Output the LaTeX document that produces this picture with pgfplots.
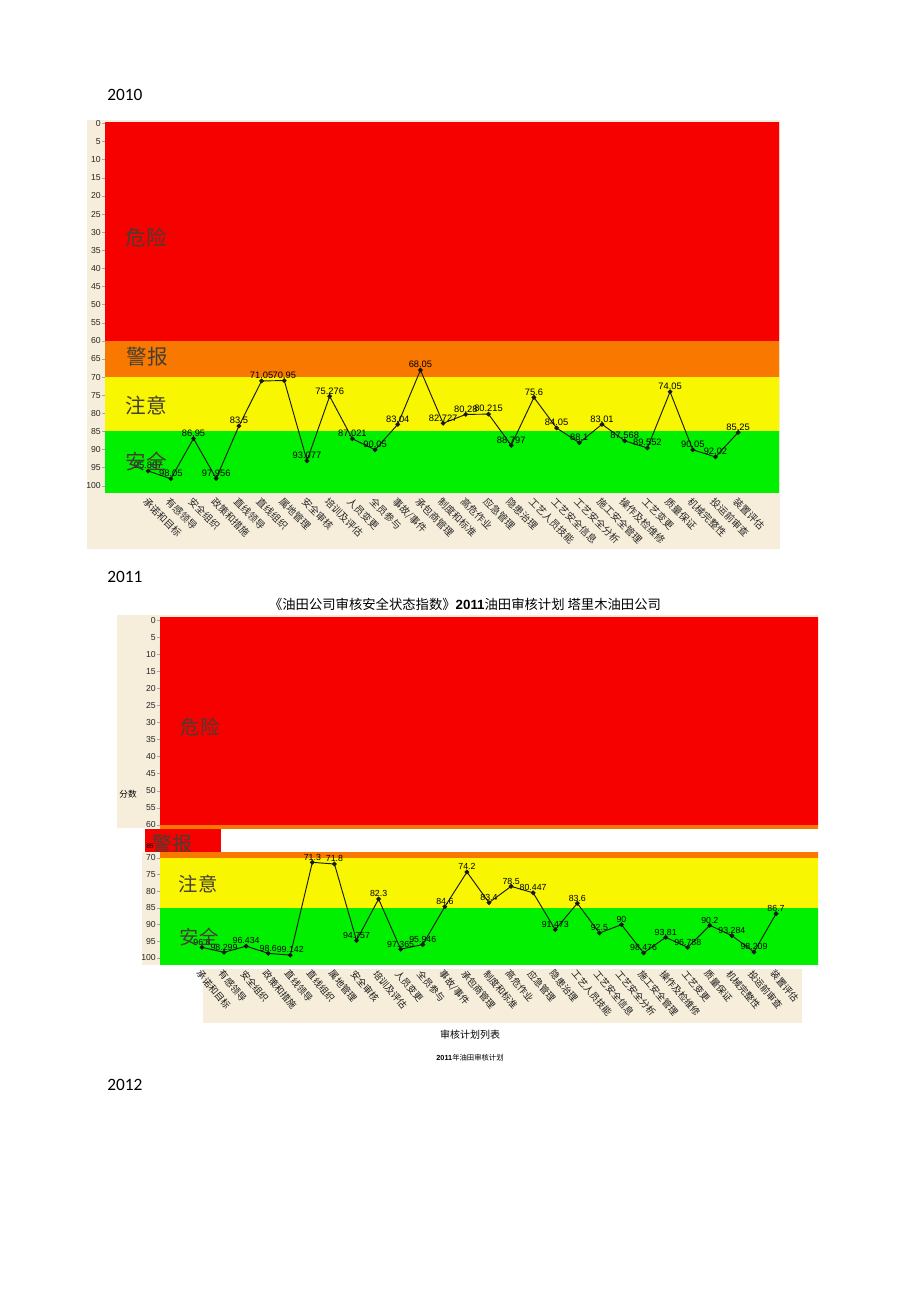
\documentclass[border=0pt]{standalone}
\usepackage{pgfplots}
\pgfplotsset{compat=1.18}
\usepackage{fontspec}
\setmainfont{Liberation Sans}
\newfontfamily\cjk{Noto Sans CJK SC}
\newfontfamily\yearfont{Carlito}
\definecolor{bred}{RGB}{246,0,0}
\definecolor{borange}{RGB}{248,120,0}
\definecolor{byellow}{RGB}{248,246,0}
\definecolor{bgreen}{RGB}{0,240,0}
\definecolor{beige}{RGB}{246,238,218}
\definecolor{bandtxt}{RGB}{70,62,50}
\pgfplotsset{
  catlabels/.style={xtick={0,...,26},xticklabels={承诺和目标,有感领导,安全组织,政策和措施,直线领导,直线组织,属地管理,安全审核,培训及评估,人员变更,全员参与,事故/事件,承包商管理,制度和标准,高危作业,应急管理,隐患治理,工艺人员技能,工艺安全信息,工艺安全分析,施工安全管理,操作及检维修,工艺变更,质量保证,机械完整性,投运前审查,装置评估}},
  riskaxis/.style={
    scale only axis, y dir=reverse,
    axis y line*=left, axis x line*=bottom,
    x axis line style={draw=none},
    y axis line style={draw=gray!70, line width=0.4pt},
    tick align=outside, major tick length=2pt,
    ytick style={draw=gray!70, line width=0.4pt},
    xtick style={draw=none},
    yticklabel style={font=\fontsize{6.5}{6.5}\selectfont, text=black!85, inner sep=1pt},
    /pgf/number format/assume math mode=true,
  },
  datastyle/.style={black!90, line width=0.7pt, mark=*, mark size=1.4pt,
    nodes near coords, point meta=explicit symbolic,
    every node near coord/.style={font=\fontsize{7}{7}\selectfont, inner sep=1.2pt, anchor=south, text=black}},
}
\begin{document}
\begin{tikzpicture}
\useasboundingbox (0,0) rectangle (690pt,-975.75pt);
\fill[white] (0,0) rectangle (690pt,-975.75pt);
% ---------------- 2010 ----------------
\node[anchor=west, inner sep=0] at (80.25pt,-71.25pt) {\yearfont\fontsize{13}{13}\selectfont 2010};
\fill[beige] (65.25pt,-90pt) rectangle (585pt,-411.75pt);
\begin{axis}[riskaxis, catlabels,
  at={(78.75pt,-91.5pt)}, anchor=north west,
  width=505.5pt, height=277.5pt,
  xmin=-1.9, xmax=27.8, ymin=-0.4, ymax=101.7,
  ytick={0,5,...,100},
  x tick label style={font=\cjk\fontsize{7.4}{7.4}\selectfont, rotate=-45, anchor=north west, inner sep=1pt, text=black!85},
]
\fill[bred] (axis cs:-5,-5) rectangle (axis cs:40,60);
\fill[borange] (axis cs:-5,60) rectangle (axis cs:40,70);
\fill[byellow] (axis cs:-5,70) rectangle (axis cs:40,85);
\fill[bgreen] (axis cs:-5,85) rectangle (axis cs:40,105);
\addplot[datastyle] table[meta=l] {
x y l
0 95.887 95.887
1 98.05 98.05
2 86.95 86.95
3 97.956 97.956
4 83.5 83.5
5 71.05 71.05
6 70.95 70.95
7 93.077 93.077
8 75.276 75.276
9 87.021 87.021
10 90.05 90.05
11 83.04 83.04
12 68.05 68.05
13 82.727 82.727
14 80.28 80.28
15 80.215 80.215
16 88.797 88.797
17 75.6 75.6
18 84.05 84.05
19 88.1 88.1
20 83.01 83.01
21 87.568 87.568
22 89.552 89.552
23 74.05 74.05
24 90.05 90.05
25 92.02 92.02
26 85.25 85.25
};
\end{axis}
\begin{scope}[every node/.style={font=\cjk\fontsize{15.5}{15.5}\selectfont, text=bandtxt, inner sep=0}]
\node at (109.5pt,-178.5pt) {危险};
\node at (110.25pt,-267.75pt) {警报};
\node at (109.5pt,-303.75pt) {注意};
\node at (109.5pt,-346.5pt) {安全};
\end{scope}
% ---------------- 2011 ----------------
\node[anchor=west, inner sep=0] at (80.25pt,-432.75pt) {\yearfont\fontsize{13}{13}\selectfont 2011};
\node[inner sep=0] at (348.75pt,-453pt) {\fontsize{10}{10}\selectfont{\cjk 《油田公司审核安全状态指数》}\textbf{2011}{\cjk 油田审核计划\ 塔里木油田公司}};
\fill[beige] (87.75pt,-461.25pt) rectangle (613.5pt,-621pt);
\begin{axis}[riskaxis,
  at={(120pt,-462.75pt)}, anchor=north west,
  width=493.5pt, height=158.25pt,
  xmin=-1.9, xmax=27.9, ymin=-0.9, ymax=60.9,
  ytick={0,5,...,60}, xtick=\empty,
]
\fill[bred] (axis cs:-5,-5) rectangle (axis cs:40,60);
\fill[borange] (axis cs:-5,60) rectangle (axis cs:40,70);
\end{axis}
\node[inner sep=0] at (96pt,-595.5pt) {\cjk\fontsize{6.5}{6.5}\selectfont 分数};
% broken alert box
\fill[bred] (108.75pt,-621.75pt) rectangle (165.75pt,-639pt);
\begin{scope}
\clip (108.75pt,-621.75pt) rectangle (165.75pt,-639pt);
\node[inner sep=0] at (129.5pt,-633pt) {\cjk\fontsize{15}{15}\selectfont\color{bandtxt}警报};
\end{scope}
\node[anchor=west, inner sep=0] at (109.5pt,-634.5pt) {\fontsize{5}{5}\selectfont 85};
\fill[beige] (106.5pt,-639pt) rectangle (120pt,-723.75pt);
\fill[beige] (152.25pt,-726.75pt) rectangle (601.5pt,-767.25pt);
\begin{axis}[riskaxis, catlabels,
  at={(120pt,-639pt)}, anchor=north west,
  width=493.5pt, height=84pt,
  xmin=-1.9, xmax=27.9, ymin=68.2, ymax=101.8,
  ytick={70,75,...,100},
  x tick label style={font=\cjk\fontsize{7}{7}\selectfont, rotate=-50, anchor=north west, inner sep=1pt, text=black!90},
]
\fill[borange] (axis cs:-5,60) rectangle (axis cs:40,70);
\fill[byellow] (axis cs:-5,70) rectangle (axis cs:40,85);
\fill[bgreen] (axis cs:-5,85) rectangle (axis cs:40,105);
\addplot[datastyle, every node near coord/.append style={font=\fontsize{6.6}{6.6}\selectfont}] table[meta=l] {
x y l
0 96.8 96.8
1 98.299 98.299
2 96.434 96.434
3 98.6 98.6
4 99.142 99.142
5 71.3 71.3
6 71.8 71.8
7 94.757 94.757
8 82.3 82.3
9 97.365 97.365
10 95.946 95.946
11 84.6 84.6
12 74.2 74.2
13 83.4 83.4
14 78.5 78.5
15 80.447 80.447
16 91.473 91.473
17 83.6 83.6
18 92.5 92.5
19 90 90
20 98.476 98.476
21 93.81 93.81
22 96.788 96.788
23 90.2 90.2
24 93.284 93.284
25 98.209 98.209
26 86.7 86.7
};
\end{axis}
\begin{scope}[every node/.style={font=\cjk\fontsize{14.5}{14.5}\selectfont, text=bandtxt, inner sep=0}]
\node at (150pt,-545.25pt) {危险};
\node at (148.5pt,-663pt) {注意};
\node at (149.25pt,-702.75pt) {安全};
\end{scope}
\node[inner sep=0] at (352.5pt,-776.25pt) {\cjk\fontsize{7.5}{7.5}\selectfont 审核计划列表};
\node[inner sep=0] at (352.5pt,-793.5pt) {\fontsize{5.5}{5.5}\selectfont\textbf{2011}{\cjk 年油田审核计划}};
\node[anchor=west, inner sep=0] at (80.25pt,-813.75pt) {\yearfont\fontsize{13}{13}\selectfont 2012};
\end{tikzpicture}
\end{document}
